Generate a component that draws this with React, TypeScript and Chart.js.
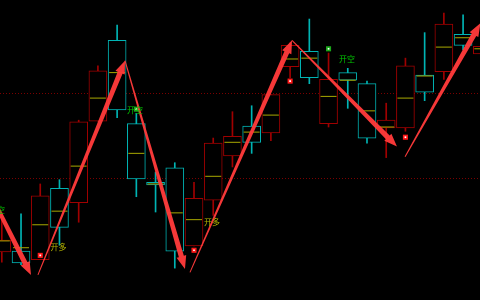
import { useEffect, useRef } from "react";
import { Chart, registerables } from "chart.js";

Chart.register(...registerables);

// OHLC per bar (bar index = position on the x axis)
const openPrices = [3713, 3714, 3704, 3788, 3771, 3867, 3962, 3864, 3795, 3812, 3720, 3774, 3826, 3861, 3853, 3931, 3949, 3864, 3924, 3911, 3859, 3859, 3921, 3925, 3969, 3946];
const closePrices = [3727, 3700, 3779, 3742, 3866, 3926, 3880, 3799, 3792, 3714, 3776, 3841, 3849, 3842, 3898, 3956, 3918, 3916, 3915, 3847, 3868, 3932, 3901, 3981, 3956, 3955];
const highPrices = [3759, 3758, 3793, 3798, 3868, 3932, 3980, 3876, 3807, 3818, 3795, 3847, 3878, 3885, 3898, 3959, 3987, 3947, 3929, 3914, 3888, 3941, 3971, 3994, 3992, 3955];
const lowPrices = [3701, 3698, 3704, 3721, 3748, 3867, 3871, 3778, 3760, 3694, 3720, 3756, 3813, 3829, 3844, 3918, 3911, 3860, 3882, 3841, 3824, 3855, 3891, 3916, 3951, 3946];
// per-bar average price tick
const avgPrices = [3726, 3718, 3745, 3761, 3814, 3894, 3924, 3829, 3793, 3759, 3751, 3802, 3842, 3854, 3874, 3940, 3941, 3896, 3915, 3879, 3860, 3894, 3920, 3954, 3965, 3952];

// signal dots
const longDotIdx = [2, 10, 15, 21];
const longDotPrice = [3709, 3715, 3914, 3848];
const shortDotIdx = [7, 17];
const shortDotPrice = [3881, 3952];

// signal captions
const signalText = ["开空", "开多", "开空", "开多", "开空"];
const signalIdx = [-0.25, 2.95, 6.93, 10.94, 17.96];
const signalPrice = [3762, 3719, 3880, 3748, 3940];

// swing arrows (from -> to), in bar index / price
const swingFromIdx = [-4, 1.88, 6.41, 9.79, 15.1, 20.98];
const swingFromPrice = [3935, 3686, 3938, 3689, 3962, 3825];
const swingToIdx = [1.52, 6.41, 9.53, 15.1, 20.56, 24.9];
const swingToPrice = [3686, 3938, 3693, 3962, 3837, 3982];

// horizontal reference levels
const levelPrices = [3800, 3900];

const UP = "#a00000";
const DOWN = "#00b4b4";
const AVG = "#a8a800";

export default function App() {
  const canvasRef = useRef<HTMLCanvasElement | null>(null);

  useEffect(() => {
    document.body.style.margin = "0";
    document.body.style.background = "#000";
    const canvas = canvasRef.current;
    if (!canvas) return;

    const colors = openPrices.map((o, i) => (closePrices[i] >= o ? UP : DOWN));

    const drawArrow = (ctx: CanvasRenderingContext2D, x0: number, y0: number, x1: number, y1: number) => {
      const dx = x1 - x0;
      const dy = y1 - y0;
      const len = Math.hypot(dx, dy);
      const ux = dx / len;
      const uy = dy / len;
      const nx = -uy;
      const ny = ux;
      const headLen = 13;
      const headHalf = 5;
      const tail = 0.5;
      const neck = 2.6;
      const bx = x1 - ux * headLen;
      const by = y1 - uy * headLen;
      ctx.beginPath();
      ctx.moveTo(x0 + nx * tail, y0 + ny * tail);
      ctx.lineTo(bx + nx * neck, by + ny * neck);
      ctx.lineTo(bx + nx * headHalf, by + ny * headHalf);
      ctx.lineTo(x1, y1);
      ctx.lineTo(bx - nx * headHalf, by - ny * headHalf);
      ctx.lineTo(bx - nx * neck, by - ny * neck);
      ctx.lineTo(x0 - nx * tail, y0 - ny * tail);
      ctx.closePath();
      ctx.fill();
    };

    const overlay = {
      id: "swingOverlay",
      beforeDraw(chart: Chart) {
        const { ctx, width, height } = chart;
        ctx.save();
        ctx.fillStyle = "#000";
        ctx.fillRect(0, 0, width, height);
        ctx.restore();
      },
      afterDatasetsDraw(chart: Chart) {
        const { ctx } = chart;
        const xs = chart.scales.x;
        const ys = chart.scales.y;
        ctx.save();
        ctx.fillStyle = "rgba(255, 58, 58, 0.96)";
        swingFromIdx.forEach((_, i) => {
          drawArrow(
            ctx,
            xs.getPixelForValue(swingFromIdx[i]),
            ys.getPixelForValue(swingFromPrice[i]),
            xs.getPixelForValue(swingToIdx[i]),
            ys.getPixelForValue(swingToPrice[i])
          );
        });
        ctx.font = '8px "Noto Sans CJK SC"';
        ctx.textAlign = "center";
        ctx.textBaseline = "middle";
        signalText.forEach((t, i) => {
          ctx.fillStyle = t === "开多" ? "#b4b400" : "#00c800";
          ctx.fillText(t, xs.getPixelForValue(signalIdx[i]), ys.getPixelForValue(signalPrice[i]));
        });
        ctx.restore();
      },
    };

    const chart = new Chart(canvas, {
      type: "bar",
      data: {
        datasets: [
          {
            type: "bar",
            order: 5,
            grouped: false,
            data: lowPrices.map((l, i) => ({ x: i, y: [l, highPrices[i]] })) as any,
            backgroundColor: colors,
            borderWidth: 0,
            barThickness: 1,
          },
          {
            type: "bar",
            order: 4,
            grouped: false,
            data: openPrices.map((o, i) => ({ x: i, y: [o, closePrices[i]] })) as any,
            backgroundColor: "#000",
            borderColor: colors,
            borderWidth: 1,
            borderSkipped: false,
            barThickness: 18,
          },
          {
            type: "scatter",
            order: 3,
            data: avgPrices.map((v, i) => ({ x: i, y: v })),
            pointStyle: "line",
            pointRadius: 8,
            borderColor: AVG,
            borderWidth: 1,
          },
          {
            type: "scatter",
            order: 2,
            data: longDotIdx.map((x, i) => ({ x, y: longDotPrice[i] })),
            pointStyle: "rect",
            pointRadius: 3.6,
            backgroundColor: "#ff1a1a",
            borderWidth: 0,
          },
          {
            type: "scatter",
            order: 2,
            data: shortDotIdx.map((x, i) => ({ x, y: shortDotPrice[i] })),
            pointStyle: "rect",
            pointRadius: 3.6,
            backgroundColor: "#1aa81a",
            borderWidth: 0,
          },
          {
            type: "scatter",
            order: 1,
            data: [...longDotIdx, ...shortDotIdx].map((x, i) => ({
              x,
              y: [...longDotPrice, ...shortDotPrice][i],
            })),
            pointStyle: "rect",
            pointRadius: 1.2,
            backgroundColor: "#ffffff",
            borderWidth: 0,
          },
        ],
      },
      options: {
        responsive: false,
        animation: false,
        events: [],
        layout: { padding: 0, autoPadding: false },
        plugins: { legend: { display: false }, tooltip: { enabled: false } },
        scales: {
          x: { type: "linear", min: -0.094, max: 24.88, offset: false, display: false },
          y: {
            type: "linear",
            min: 3656.5,
            max: 4009.4,
            afterBuildTicks: (scale: any) => {
              scale.ticks = levelPrices.map((v) => ({ value: v }));
            },
            ticks: { display: false },
            grid: { color: "#7a0000", lineWidth: 1, drawTicks: false },
            border: { display: false, dash: [1, 2] },
          },
        },
      },
      plugins: [overlay],
    });

    return () => chart.destroy();
  }, []);

  return (
    <div style={{ width: 480, height: 300, background: "#000" }}>
      <canvas ref={canvasRef} width={480} height={300} />
    </div>
  );
}
